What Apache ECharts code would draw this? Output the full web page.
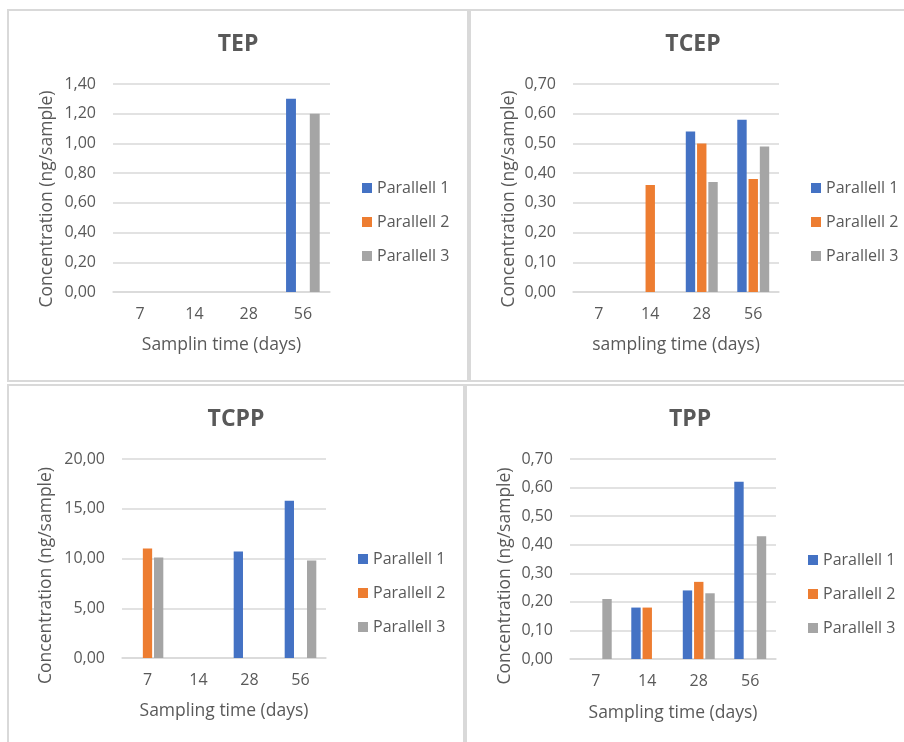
<!DOCTYPE html>
<html>
<head>
<meta charset="utf-8">
<script src="https://cdn.jsdelivr.net/npm/echarts@6/dist/echarts.min.js"></script>
<style>
  html, body { margin: 0; padding: 0; background: #ffffff; }
  #chart { width: 904px; height: 742px; }
</style>
</head>
<body>
<div id="chart"></div>
<script>
// Sampling days shared by all four compounds
const categories = ['7', '14', '28', '56'];
const seriesNames = ['Parallell 1', 'Parallell 2', 'Parallell 3'];

// Concentrations (ng/sample); null = no bar
const tepP1 = [null, null, null, 1.30];
const tepP2 = [null, null, null, null];
const tepP3 = [null, null, null, 1.20];

const tcepP1 = [null, null, 0.54, 0.58];
const tcepP2 = [null, 0.36, 0.50, 0.38];
const tcepP3 = [null, null, 0.37, 0.49];

const tcppP1 = [null, null, 10.7, 15.8];
const tcppP2 = [11.0, null, null, null];
const tcppP3 = [10.1, null, null, 9.8];

const tppP1 = [null, 0.18, 0.24, 0.62];
const tppP2 = [null, 0.18, 0.27, null];
const tppP3 = [0.21, null, 0.23, 0.43];

// Value-axis ranges
const axisMax = [1.4, 0.7, 20, 0.7];
const axisStep = [0.2, 0.1, 5, 0.1];

const panelTitles = ['TEP', 'TCEP', 'TCPP', 'TPP'];
const xTitles = ['Samplin time (days)', 'sampling time (days)', 'Sampling time (days)', 'Sampling time (days)'];
const yTitle = 'Concentration (ng/sample)';

const colors = ['#4472C4', '#ED7D31', '#A5A5A5'];
const textColor = '#595959';
const gridColor = '#D9D9D9';
const font = 'Open Sans';

// Layout of each panel
const panels = [
  { grid: { left: 113, top: 84, width: 217, height: 208 }, titleX: 238, titleY: 28, legend: { left: 362, top: 179 }, yGap: 57, yShift: 22, xGap: 44 },
  { grid: { left: 573, top: 84, width: 206, height: 208 }, titleX: 693, titleY: 28, legend: { left: 811, top: 179 }, yGap: 55, yShift: 22, xGap: 44 },
  { grid: { left: 122, top: 459, width: 204, height: 199 }, titleX: 236, titleY: 403, legend: { left: 358, top: 550 }, yGap: 67, yShift: 34, xGap: 44 },
  { grid: { left: 570, top: 459, width: 206, height: 200 }, titleX: 690, titleY: 403, legend: { left: 808, top: 551 }, yGap: 56, yShift: 34, xGap: 45 }
];

const panelData = [
  [tepP1, tepP2, tepP3],
  [tcepP1, tcepP2, tcepP3],
  [tcppP1, tcppP2, tcppP3],
  [tppP1, tppP2, tppP3]
];

const fmt = v => v.toFixed(2).replace('.', ',');

const option = {
  animation: false,
  backgroundColor: '#ffffff',
  textStyle: { fontFamily: font },
  title: panels.map((p, i) => ({
    text: panelTitles[i],
    left: p.titleX - 5,
    top: p.titleY,
    textAlign: 'center',
    textStyle: { fontFamily: font, fontSize: 23, fontWeight: 'bold', color: textColor }
  })),
  legend: panels.map((p, i) => ({
    orient: 'vertical',
    left: p.legend.left,
    top: p.legend.top,
    padding: 0,
    itemWidth: 10,
    itemHeight: 10,
    itemGap: 16,
    icon: 'rect',
    data: seriesNames,
    textStyle: { fontFamily: font, fontSize: 16, color: textColor, lineHeight: 18 }
  })),
  grid: panels.map(p => Object.assign({ containLabel: false }, p.grid)),
  xAxis: panels.map((p, i) => ({
    type: 'category',
    gridIndex: i,
    data: categories,
    name: xTitles[i],
    nameLocation: 'middle',
    nameGap: p.xGap,
    nameTextStyle: { fontFamily: font, fontSize: 17.5, color: textColor },
    axisLine: { show: true, lineStyle: { color: gridColor, width: 1.5 } },
    axisTick: { show: false },
    axisLabel: { fontFamily: font, fontSize: 16, color: textColor, margin: 14 }
  })),
  yAxis: panels.map((p, i) => ({
    type: 'value',
    gridIndex: i,
    min: 0,
    max: axisMax[i],
    interval: axisStep[i],
    name: yTitle,
    nameLocation: 'middle',
    nameRotate: 90,
    nameGap: p.yGap,
    nameTextStyle: { fontFamily: font, fontSize: 17.5, color: textColor, padding: [0, p.yShift, 0, 0] },
    axisLine: { show: false },
    axisTick: { show: false },
    splitLine: { lineStyle: { color: gridColor, width: 1.5 } },
    axisLabel: { fontFamily: font, fontSize: 16, color: textColor, margin: 17, formatter: fmt }
  })),
  series: [],
  graphic: [
    { type: 'rect', shape: { x: 8, y: 10, width: 460, height: 371 }, style: { fill: 'none', stroke: gridColor, lineWidth: 2 }, silent: true },
    { type: 'rect', shape: { x: 470, y: 10, width: 440, height: 371 }, style: { fill: 'none', stroke: gridColor, lineWidth: 2 }, silent: true },
    { type: 'rect', shape: { x: 8, y: 385, width: 456, height: 400 }, style: { fill: 'none', stroke: gridColor, lineWidth: 2 }, silent: true },
    { type: 'rect', shape: { x: 466, y: 385, width: 450, height: 400 }, style: { fill: 'none', stroke: gridColor, lineWidth: 2 }, silent: true }
  ]
};

panelData.forEach((set, i) => {
  set.forEach((values, k) => {
    option.series.push({
      type: 'bar',
      name: seriesNames[k],
      xAxisIndex: i,
      yAxisIndex: i,
      data: values,
      barGap: '20%',
      barCategoryGap: '38%',
      itemStyle: { color: colors[k] }
    });
  });
});

const chart = echarts.init(document.getElementById('chart'), null, { renderer: 'canvas' });
chart.setOption(option);
</script>
</body>
</html>
